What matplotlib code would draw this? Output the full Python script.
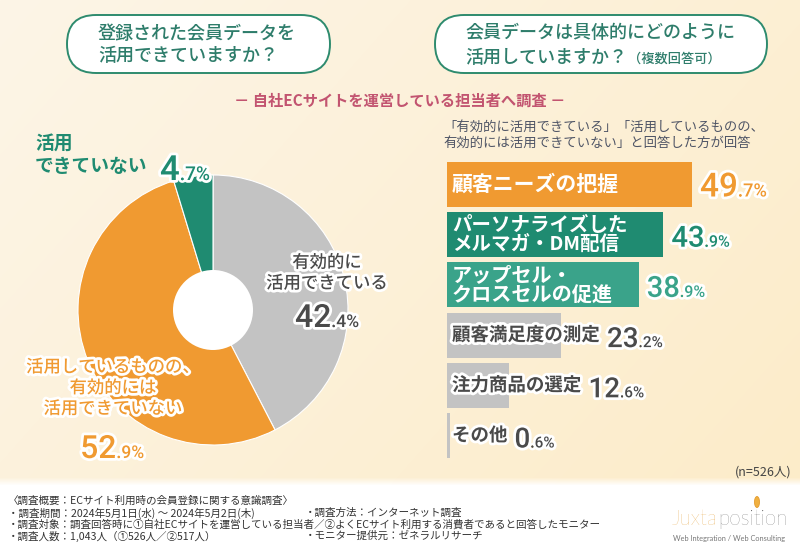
import matplotlib
matplotlib.use('Agg')
import matplotlib.pyplot as plt
import numpy as np
from matplotlib.patches import FancyBboxPatch, Circle, Ellipse
import matplotlib.patheffects as pe

JP = 'Noto Sans CJK JP'
NUM = 'Roboto'

# ---------------- data ----------------
pie_labels = ['有効的に\n活用できている', '活用しているものの、\n有効的には\n活用できていない', '活用\nできていない']
pie_values = [42.4, 52.9, 4.7]
pie_colors = ['#C3C3C3', '#F09A31', '#1F8B71']
pie_text_colors = ['#4A4A4A', '#F09A31', '#1F8B71']

bar_labels = ['顧客ニーズの把握', 'パーソナライズした\nメルマガ・DM配信', 'アップセル・\nクロスセルの促進',
              '顧客満足度の測定', '注力商品の選定', 'その他']
bar_values = [49.7, 43.9, 38.9, 23.2, 12.6, 0.6]
bar_colors = ['#F09A31', '#1F8B71', '#3AA38A', '#C3C3C3', '#C3C3C3', '#C3C3C3']
bar_value_colors = ['#F09A31', '#1F8B71', '#3AA38A', '#4A4A4A', '#4A4A4A', '#4A4A4A']

title_left = '登録された会員データを\n活用できていますか？'
title_right_1 = '会員データは具体的にどのように'
title_right_2 = '活用していますか？'
title_right_3 = '（複数回答可）'
subtitle = '－ 自社ECサイトを運営している担当者へ調査 －'
bar_note = ['「有効的に活用できている」「活用しているものの、', '有効的には活用できていない」と回答した方が回答']
n_note = '(n=526人)'
footer_left = ['〈調査概要：ECサイト利用時の会員登録に関する意識調査〉',
               '・調査期間：2024年5月1日(水) ～ 2024年5月2日(木)',
               '・調査対象：調査回答時に①自社ECサイトを運営している担当者／②よくECサイト利用する消費者であると回答したモニター',
               '・調査人数：1,043人（①526人／②517人）']
footer_right = ['・調査方法：インターネット調査', '・モニター提供元：ゼネラルリサーチ']

# ---------------- figure ----------------
W, H = 800, 553
fig = plt.figure(figsize=(W / 100, H / 100), dpi=100)
fig.patch.set_facecolor('white')
bg = fig.add_axes([0, 0, 1, 1], zorder=0)
bg.set_xlim(0, W); bg.set_ylim(H, 0); bg.axis('off')

# background gradient (top area)
GH = 486
xs = np.linspace(0, 1, W); ys = np.linspace(0, 1, GH)
X, Y = np.meshgrid(xs, ys)
t = np.clip(0.65 * X + 0.35 * Y, 0, 1)
c0 = np.array([252, 245, 231]) / 255
c1 = np.array([253, 236, 201]) / 255
img = c0 * (1 - t)[..., None] + c1 * t[..., None]
fade = np.clip((GH - 1 - np.arange(GH)) / 8.0, 0, 1)[:, None, None]
img = img * fade + (1 - fade) * 1.0
bg.imshow(img, extent=[0, W, GH, 0], aspect='auto', zorder=0, interpolation='bilinear')

# title boxes
for (x0, x1) in [(67, 330), (435, 767)]:
    box = FancyBboxPatch((x0, 15), x1 - x0, 58, boxstyle='round,pad=0,rounding_size=29',
                         facecolor='white', edgecolor='#2E8B6E', linewidth=1.4, zorder=2)
    bg.add_patch(box)

# ---------------- pie ----------------
cx, cy, R = 213, 310, 135
axp = fig.add_axes([(cx - R) / W, 1 - (cy + R) / H, 2 * R / W, 2 * R / H], zorder=1)
axp.pie(pie_values, colors=pie_colors, startangle=90, counterclock=False, radius=1,
        wedgeprops=dict(edgecolor='white', linewidth=0.8))
axp.add_patch(Circle((0, 0), 40 / R, facecolor='white', edgecolor='none', zorder=5))
axp.set_xlim(-1, 1); axp.set_ylim(-1, 1); axp.axis('off')

# ---------------- bars ----------------
px_per = 4.93
bx0, top, pitch = 447, 159.4, 50.2
axb = fig.add_axes([bx0 / W, 1 - (top + 6 * pitch) / H, 345 / W, 6 * pitch / H], zorder=1)
axb.barh(range(len(bar_values)), bar_values, height=0.9, color=bar_colors)
axb.set_xlim(0, 345 / px_per); axb.set_ylim(len(bar_values) - 0.5, -0.5); axb.axis('off')

# ---------------- text overlay ----------------
tx = fig.add_axes([0, 0, 1, 1], zorder=5)
tx.set_xlim(0, W); tx.set_ylim(H, 0); tx.axis('off'); tx.patch.set_alpha(0)
renderer = fig.canvas.get_renderer()
white_stroke = [pe.withStroke(linewidth=4, foreground='white')]


def pct(x, y, value, color, big, ha='left', stroke=True):
    whole, frac = f'{value:.1f}'.split('.')
    kw = dict(family=NUM, weight='medium', color=color, va='baseline', ha='left')
    if stroke:
        kw['path_effects'] = white_stroke
    t1 = tx.text(x, y, whole, fontsize=big, **kw)
    t2 = tx.text(x, y, '.' + frac + '%', fontsize=big * 0.55, **kw)
    w1 = t1.get_window_extent(renderer).width
    w2 = t2.get_window_extent(renderer).width
    x0 = x - (w1 + w2) / 2 if ha == 'center' else x
    t1.set_x(x0); t2.set_x(x0 + w1)


# titles
tx.text(98, 45, title_left, family=JP, weight='medium', fontsize=13, color='#2E7D6B',
        va='center', ha='left', linespacing=1.35)
tx.text(465, 33, title_right_1, family=JP, weight='medium', fontsize=13, color='#2E7D6B',
        va='center', ha='left')
t_r2 = tx.text(465, 58, title_right_2, family=JP, weight='medium', fontsize=13, color='#2E7D6B',
               va='center', ha='left')
e = t_r2.get_window_extent(renderer)
tx.text(e.x1 + 1, 59, title_right_3, family=JP, weight='medium', fontsize=9.5, color='#2E7D6B',
        va='center', ha='left')

tx.text(400, 101, subtitle, family=JP, weight='bold', fontsize=11, color='#C25470',
        va='center', ha='center')

# pie labels
tx.text(327, 273, pie_labels[0], family=JP, weight='medium', fontsize=12.5, color=pie_text_colors[0],
        va='center', ha='center', linespacing=1.2, path_effects=white_stroke)
pct(327, 327, pie_values[0], pie_text_colors[0], 23, ha='center')
tx.text(113, 388, pie_labels[1], family=JP, weight='medium', fontsize=12.5, color=pie_text_colors[1],
        va='center', ha='center', linespacing=1.2, path_effects=white_stroke)
pct(112, 458, pie_values[1], pie_text_colors[1], 23, ha='center')
tx.text(35, 155, pie_labels[2], family=JP, weight='bold', fontsize=13.5, color=pie_text_colors[2],
        va='center', ha='left', linespacing=1.25)
pct(160, 180, pie_values[2], pie_text_colors[2], 25, ha='left')

# bar note
tx.text(443, 127, bar_note[0], family=JP, fontsize=9.6, color='#4F5566', va='center', ha='left')
tx.text(443, 143, bar_note[1], family=JP, fontsize=9.6, color='#4F5566', va='center', ha='left')

# bar labels and values
label_sizes = [15, 14, 14.5, 13.3, 13.3, 13.3]
value_sizes = [24, 21, 21, 20, 20, 20]
for i, (lab, v) in enumerate(zip(bar_labels, bar_values)):
    d = axb.transData.transform((v, i))
    xe = d[0]
    yc = H - d[1]
    if i < 3:
        tl = tx.text(452, yc, lab, family=JP, weight='bold', fontsize=label_sizes[i], color='white',
                     va='center', ha='left', linespacing=1.0)
        xv = xe + 8
    else:
        tl = tx.text(452, yc, lab, family=JP, weight='bold', fontsize=label_sizes[i], color='#4A4A4A',
                     va='center', ha='left', path_effects=white_stroke)
        ext = tl.get_window_extent(renderer)
        xv = max(xe, ext.x1) + 7
    pct(xv, yc + 12, v, bar_value_colors[i], value_sizes[i])

tx.text(792, 472, n_note, family=JP, fontsize=9, color='#444444', va='center', ha='right')

# footer
fy = [501, 513, 524.5, 536]
for y, s in zip(fy, footer_left):
    tx.text(8, y, s, family=JP, fontsize=7.6, color='#333333', va='center', ha='left')
for y, s in zip([fy[1], fy[3]], footer_right):
    tx.text(305, y, s, family=JP, fontsize=7.6, color='#333333', va='center', ha='left')

# logo
lj = tx.text(672, 525, 'Juxta', family='Lato', weight='light', fontsize=15, color='#E39B2E',
             va='baseline', ha='left')
ew = lj.get_window_extent(renderer).width
tx.text(672 + ew, 525, 'position', family='Lato', weight='light', fontsize=15, color='#555555',
        va='baseline', ha='left')
tx.text(673, 538, 'Web Integration / Web Consulting', family='Lato', fontsize=5.3, color='#777777',
        va='center', ha='left')
tx.add_patch(Ellipse((757, 502), 5, 11, facecolor='#F0B040', edgecolor='#E39B2E', linewidth=0.6))

fig.savefig('out.png', dpi=100, facecolor='white')
